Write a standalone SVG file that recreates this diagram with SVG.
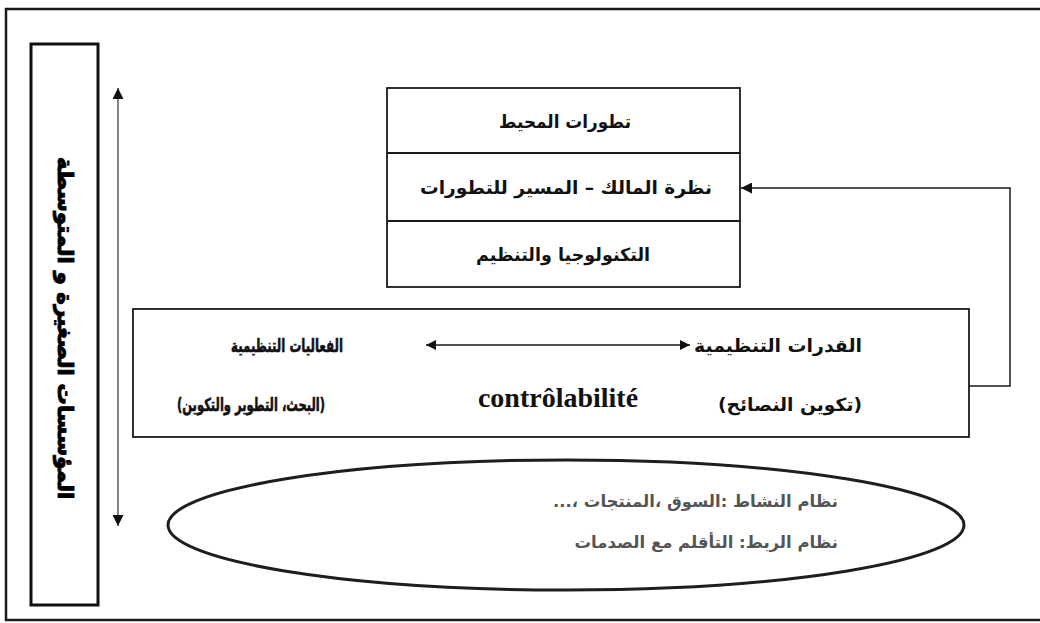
<svg xmlns="http://www.w3.org/2000/svg" width="1040" height="623" viewBox="0 0 1040 623">
  <style>
    .frame { fill: none; stroke: #1a1a1a; stroke-width: 2.5; }
    .box { fill: #ffffff; stroke: #1a1a1a; stroke-width: 1.8; }
    .thick { fill: #ffffff; stroke: #111111; stroke-width: 3; }
    .divider { stroke: #1a1a1a; stroke-width: 1.8; }
    .ar { font-family: "DejaVu Sans", sans-serif; font-weight: bold; fill: #111111; }
    .lbl { font-size: 18px; }
    .dense { stroke: #111111; stroke-width: 0.6; }
    .side { font-size: 21.5px; fill: #000000; stroke: #000000; stroke-width: 0.9; }
    .latin { font-family: "Liberation Serif", serif; font-weight: bold; font-size: 28px; fill: #111111; }
    .soft { font-family: "DejaVu Sans", sans-serif; font-weight: bold; font-size: 16.5px; fill: #555555; }
    .conn { fill: none; stroke: #1a1a1a; stroke-width: 1.5; }
    .axis { fill: none; stroke: #333333; stroke-width: 1.2; }
  </style>
  <defs>
    <marker id="head" viewBox="0 0 10 10" refX="10" refY="5" markerWidth="10" markerHeight="10" markerUnits="userSpaceOnUse" orient="auto-start-reverse">
      <path d="M0,0 L10,5 L0,10 Z" fill="#111111"/>
    </marker>
    <marker id="headBig" viewBox="0 0 10 10" refX="10" refY="5" markerWidth="13" markerHeight="11" markerUnits="userSpaceOnUse" orient="auto-start-reverse">
      <path d="M0,0 L10,5 L0,10 Z" fill="#111111"/>
    </marker>
  </defs>

  <rect width="1040" height="623" fill="#ffffff"/>

  <!-- outer frame (right side runs past the edge) -->
  <rect class="frame" x="6" y="9" width="1045" height="611"/>

  <!-- vertical side label -->
  <g id="side-label">
    <rect class="thick" x="31" y="44" width="67" height="561"/>
    <text class="ar side" direction="rtl" text-anchor="middle" transform="translate(58,328) rotate(90)">المؤسسات الصغيرة و المتوسطة</text>
  </g>

  <!-- environment / owner view / technology stack -->
  <g id="context-box">
    <rect class="box" x="387" y="88" width="353" height="199"/>
    <line class="divider" x1="387" y1="153" x2="740" y2="153"/>
    <line class="divider" x1="387" y1="221" x2="740" y2="221"/>
    <text class="ar lbl" direction="rtl" text-anchor="middle" x="565" y="128" textLength="132" lengthAdjust="spacingAndGlyphs">تطورات المحيط</text>
    <text class="ar lbl" direction="rtl" text-anchor="middle" x="566" y="194" textLength="292" lengthAdjust="spacingAndGlyphs">نظرة المالك – المسير للتطورات</text>
    <text class="ar lbl" direction="rtl" text-anchor="middle" x="563" y="261" textLength="174" lengthAdjust="spacingAndGlyphs">التكنولوجيا والتنظيم</text>
  </g>

  <!-- organisational capabilities / efficiencies -->
  <g id="capabilities-box">
    <rect class="box" x="133" y="309" width="836" height="128"/>
    <text class="ar lbl" direction="rtl" text-anchor="middle" x="778" y="352" textLength="168" lengthAdjust="spacingAndGlyphs">القدرات التنظيمية</text>
    <text class="ar lbl dense" direction="rtl" text-anchor="middle" x="287" y="352" textLength="112" lengthAdjust="spacingAndGlyphs">الفعاليات التنظيمية</text>
    <text class="ar lbl" direction="rtl" text-anchor="middle" x="790" y="411" textLength="144" lengthAdjust="spacingAndGlyphs">(تكوين النصائح)</text>
    <text class="ar lbl dense" direction="rtl" text-anchor="middle" x="251" y="411" textLength="148" lengthAdjust="spacingAndGlyphs">(البحث، التطوير والتكوين)</text>
    <text class="latin" text-anchor="middle" x="558" y="407">contrôlabilité</text>
  </g>

  <!-- activity and link systems -->
  <g id="systems-ellipse">
    <ellipse cx="566" cy="525" rx="398" ry="65" fill="#ffffff" stroke="#1e1e1a" stroke-width="3"/>
    <text class="soft" direction="rtl" text-anchor="start" x="838" y="507">نظام النشاط :السوق ،المنتجات ،...</text>
    <text class="soft" direction="rtl" text-anchor="start" x="838" y="548">نظام الربط: التأقلم مع الصدمات</text>
  </g>

  <g id="connectors">
    <!-- scale axis beside the side label -->
    <line class="axis" x1="118" y1="88" x2="118" y2="526" marker-start="url(#headBig)" marker-end="url(#headBig)"/>
    <!-- capabilities <-> efficiencies -->
    <line class="conn" x1="426" y1="345" x2="690" y2="345" marker-start="url(#head)" marker-end="url(#head)"/>
    <!-- feedback loop to the owner view -->
    <polyline class="conn" points="969,386 1010,386 1010,188 741,188" marker-end="url(#headBig)"/>
  </g>
</svg>
